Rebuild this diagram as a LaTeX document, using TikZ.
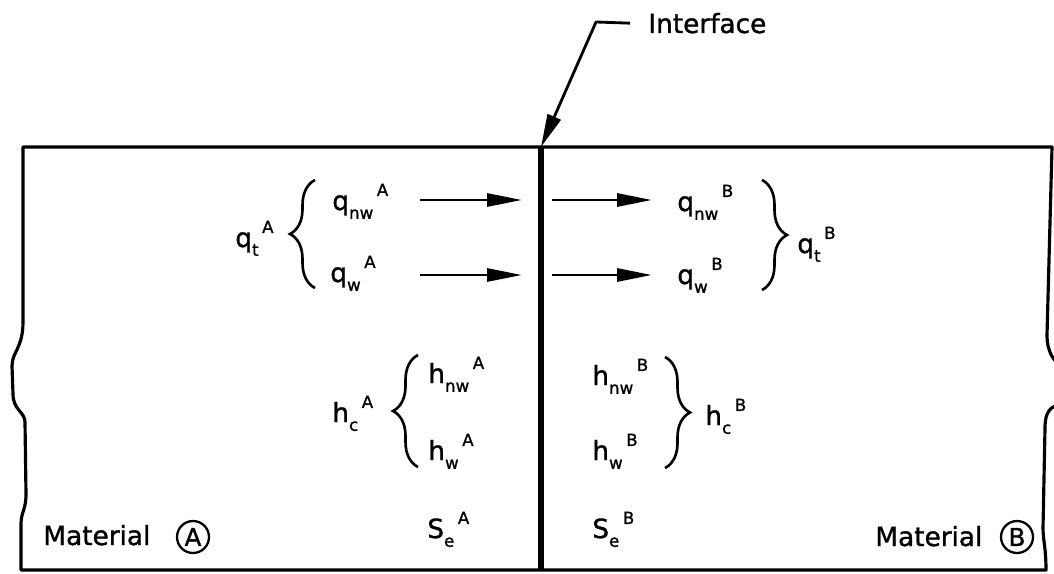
\documentclass[tikz,border=0pt]{standalone}
\usepackage{fontspec}
\setmainfont{DejaVu Sans}[FakeBold=1.2]
\usetikzlibrary{arrows.meta, positioning, decorations.pathreplacing}

\newcommand{\smallfont}{\fontsize{9.5}{10}\selectfont}
\newcommand{\quant}[3]{#1\raisebox{-5pt}{\smallfont #2}\hspace{2pt}\raisebox{8pt}{\smallfont #3}}

\tikzset{
  lbl/.style     = {anchor=base west, inner sep=0pt, font=\fontsize{15}{18}\selectfont},
  ring/.style    = {circle, draw, line width=1.3pt, minimum size=0.64cm, inner sep=0pt,
                    font=\fontsize{14}{15}\selectfont},
  cutline/.style = {line width=1.8pt, line join=round},
  wall/.style    = {line width=2.9pt},
  flow/.style    = {-{Triangle[length=0.7cm, width=0.26cm]}, line width=1.6pt},
  pointer/.style = {-{Triangle[length=0.66cm, width=0.28cm]}, line width=1.6pt, line join=round},
  curly/.style   = {decorate, decoration={brace, amplitude=0.5cm}, line width=1.5pt},
}

\begin{document}
\begin{tikzpicture}[x=0.02cm, y=-0.02cm]
  \useasboundingbox (0,0) rectangle (1054,574);

  % broken-off block
  \draw[cutline] (1062,404) .. controls (1050,406) and (1045,412) .. (1045,428)
    -- (1043,528) .. controls (1043,540) and (1046,548) .. (1046,570)
    -- (21,570) -- (21,524)
    .. controls (21,512) and (26,510) .. (26,494) -- (25,422)
    .. controls (25,412) and (13,410) .. (13,394) -- (12,366)
    .. controls (12,352) and (23,348) .. (23,322) -- (23,147)
    -- (1052,147) -- (1047,335)
    .. controls (1047,355) and (1056,362) .. (1062,368);

  % interface
  \coordinate (ifctop) at (541,147);
  \coordinate (ifcbot) at (541,570);
  \coordinate (ifcbend) at (596,22);
  \draw[wall] (ifctop) -- (ifcbot);
  \node[lbl] (ifc) at (648,33) {Interface};
  \draw[pointer] ([xshift=-0.36cm]ifc.west) -- (ifcbend) -- (ifctop);

  % fluxes
  \node[lbl] (qtA)  at (235,247) {\quant{q}{t}{A}};
  \node[lbl] (qnwA) at (332,210) {\quant{q}{nw}{A}};
  \node[lbl] (qwA)  at (330,282) {\quant{q}{w}{A}};
  \node[lbl] (qnwB) at (677,211) {\quant{q}{nw}{B}};
  \node[lbl] (qwB)  at (677,284) {\quant{q}{w}{B}};
  \node[lbl] (qtB)  at (797,253) {\quant{q}{t}{B}};

  \foreach \r/\y in {nw/200, w/275} {
    \coordinate (inA-\r)  at (420,\y);
    \coordinate (outA-\r) at (522,\y);
    \coordinate (inB-\r)  at (552,\y);
    \coordinate (outB-\r) at (652,\y);
    \draw[flow] (inA-\r) -- (outA-\r);
    \draw[flow] (inB-\r) -- (outB-\r);
  }

  % heads
  \node[lbl] (hcA)  at (332,422) {\quant{h}{c}{A}};
  \node[lbl] (hnwA) at (428,383) {\quant{h}{nw}{A}};
  \node[lbl] (hwA)  at (428,460) {\quant{h}{w}{A}};
  \node[lbl] (hnwB) at (592,385) {\quant{h}{nw}{B}};
  \node[lbl] (hwB)  at (592,460) {\quant{h}{w}{B}};
  \node[lbl] (hcB)  at (705,425) {\quant{h}{c}{B}};

  \draw[curly] (315,288) -- (315,180);
  \draw[curly] (762,180) -- (762,290);
  \draw[curly] (418,467) -- (418,355);
  \draw[curly] (665,357) -- (665,468);

  \node[lbl] (SeA) at (427,538) {\quant{S}{e}{A}};
  \node[lbl] (SeB) at (592,538) {\quant{S}{e}{B}};

  % materials
  \node[lbl]  (matA)  at (43,545) {Material};
  \node[ring] (circA) at (193,537) {A};
  \node[lbl]  (matB)  at (875,546) {Material};
  \node[ring] (circB) at (1017,537) {B};
\end{tikzpicture}
\end{document}
